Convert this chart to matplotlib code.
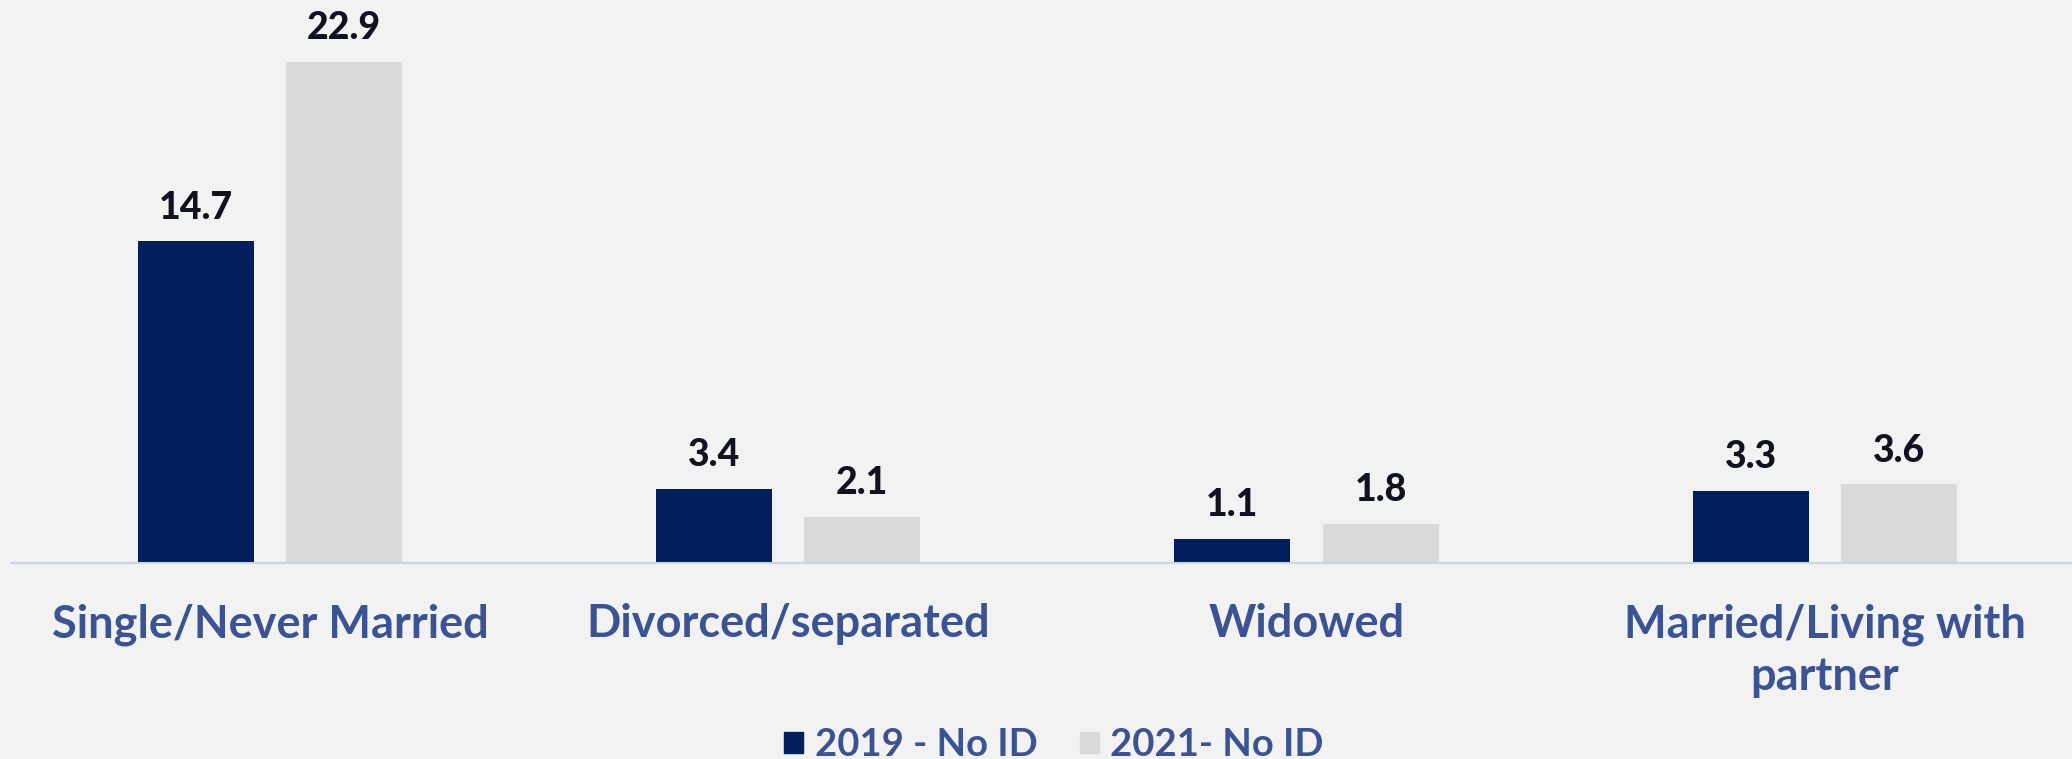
import numpy as np
import matplotlib.pyplot as plt
from matplotlib.patches import Patch

''' Data '''
categories = ["Single/Never Married", "Divorced/separated", "Widowed", "Married/Living with\npartner"]
no_id_2019 = [14.7, 3.4, 1.1, 3.3]
no_id_2021 = [22.9, 2.1, 1.8, 3.6]
series_names = ["2019 - No ID", "2021- No ID"]

''' Style '''
bg = "#F2F2F2"
navy = "#001F5C"
grey = "#D9D9D9"
label_blue = "#3B5393"
value_col = "#10131F"
plt.rcParams['font.family'] = ['Lato', 'DejaVu Sans']

W, H = 2072, 759
fig = plt.figure(figsize=(W / 100, H / 100), dpi=100, facecolor=bg)
# axes in pixel terms: baseline at y=563 from top, groups 518 px wide
left = 11
bottom = H - 563
ax = fig.add_axes([left / W, bottom / H, (W - left) / W, 563 / H])
ax.set_facecolor(bg)

x = np.arange(len(categories))
bw = 0.224
off = 0.143
b1 = ax.bar(x - off, no_id_2019, bw, color=navy, zorder=2)
b2 = ax.bar(x + off, no_id_2021, bw, color=grey, zorder=2)

ax.set_xlim(-0.5, -0.5 + (W - left) / 518.2)
ax.set_ylim(0, 563 / 21.88)

''' Value labels '''
for bars in (b1, b2):
	for r in bars:
		ax.annotate(f"{r.get_height():.1f}", (r.get_x() + r.get_width() / 2, r.get_height()),
			xytext=(0, 12), textcoords="offset points", ha="center", va="bottom",
			fontsize=27, fontweight=900, color=value_col)

''' Axes cosmetics '''
for s in ["left", "right", "top"]:
	ax.spines[s].set_visible(False)
ax.spines["bottom"].set_color("#C9D3EC")
ax.spines["bottom"].set_linewidth(1.5)
ax.set_yticks([])
ax.set_xticks(x)
ax.set_xticklabels(categories, fontsize=32.5, fontweight="bold", color=label_blue, linespacing=1.3)
ax.tick_params(axis="x", length=0, pad=29)

''' Legend '''
handles = [Patch(color=navy), Patch(color=grey)]
fig.legend(handles, series_names, loc="center", bbox_to_anchor=(1054 / W, 14 / H), ncol=2,
	frameon=False, handlelength=0.5, handleheight=0.5, handletextpad=0.3, columnspacing=1.1,
	prop={"size": 27.5, "weight": "bold"}, labelcolor=label_blue)

fig.savefig("out.png", dpi=100, facecolor=bg)
